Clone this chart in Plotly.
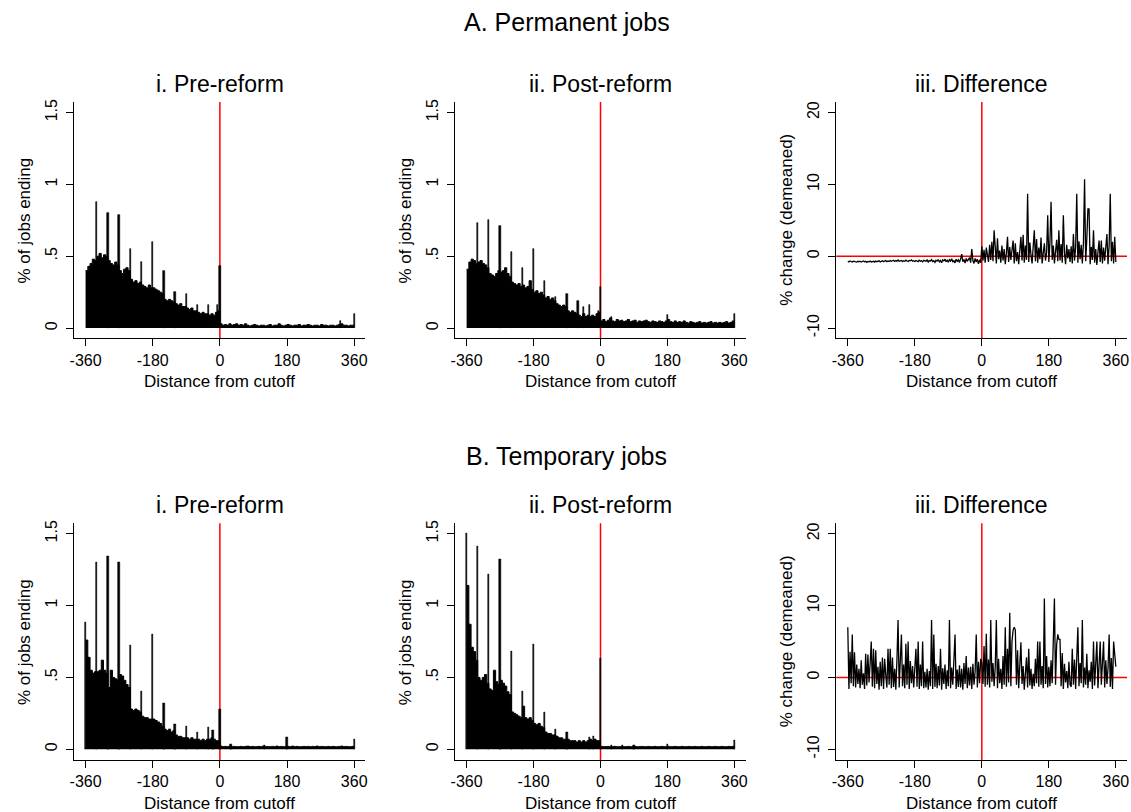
import plotly.graph_objects as go

W, H = 1131, 812

# ---------------- data ----------------
bin_days = list(range(-360, 360, 6))          # 6-day bins, -360 .. 354
line_days = list(range(-360, 361, 3))         # 3-day points for the difference panels
xticks = [-360, -180, 0, 180, 360]

# A. Permanent jobs, i. Pre-reform (% of jobs ending)
perm_pre_base = [
    0.40, 0.43, 0.45, 0.48, 0.47, 0.50, 0.52, 0.49, 0.51, 0.50,
    0.47, 0.45, 0.44, 0.46, 0.44, 0.40, 0.38, 0.41, 0.42, 0.40,
    0.34, 0.32, 0.33, 0.31, 0.32, 0.30, 0.29, 0.28, 0.30, 0.28,
    0.28, 0.27, 0.26, 0.25, 0.24, 0.20, 0.19, 0.20, 0.19, 0.18,
    0.17, 0.16, 0.17, 0.15, 0.15, 0.14, 0.13, 0.14, 0.12, 0.12,
    0.11, 0.10, 0.11, 0.10, 0.10, 0.09, 0.10, 0.09, 0.11, 0.12,
    0.030, 0.020, 0.025, 0.020, 0.030, 0.020, 0.025, 0.030, 0.020, 0.025,
    0.020, 0.030, 0.020, 0.015, 0.020, 0.025, 0.020, 0.015, 0.020, 0.020,
    0.015, 0.020, 0.025, 0.015, 0.020, 0.020, 0.030, 0.020, 0.015, 0.020,
    0.025, 0.020, 0.015, 0.020, 0.020, 0.025, 0.015, 0.020, 0.020, 0.025,
    0.020, 0.015, 0.020, 0.020, 0.015, 0.025, 0.020, 0.020, 0.015, 0.020,
    0.020, 0.015, 0.020, 0.025, 0.030, 0.020, 0.020, 0.015, 0.020, 0.020]
perm_pre_spike_days = [-330, -300, -270, -240, -210, -180, -150, -120, -90, -60, -30, -7, 0, 324, 360]
perm_pre_spike_vals = [0.88, 0.80, 0.785, 0.55, 0.46, 0.60, 0.40, 0.25, 0.236, 0.164, 0.164, 0.16, 0.43, 0.05, 0.097]

# A. Permanent jobs, ii. Post-reform
perm_post_base = [
    0.41, 0.46, 0.48, 0.47, 0.45, 0.46, 0.47, 0.45, 0.44, 0.42,
    0.38, 0.37, 0.36, 0.38, 0.40, 0.39, 0.40, 0.42, 0.38, 0.36,
    0.32, 0.31, 0.30, 0.31, 0.29, 0.30, 0.28, 0.29, 0.33, 0.27,
    0.25, 0.26, 0.24, 0.25, 0.23, 0.21, 0.22, 0.20, 0.21, 0.19,
    0.17, 0.16, 0.15, 0.16, 0.15, 0.12, 0.11, 0.12, 0.11, 0.10,
    0.09, 0.08, 0.10, 0.08, 0.09, 0.08, 0.09, 0.08, 0.10, 0.11,
    0.050, 0.060, 0.045, 0.055, 0.070, 0.050, 0.045, 0.060, 0.050, 0.055,
    0.045, 0.050, 0.060, 0.045, 0.050, 0.055, 0.040, 0.050, 0.045, 0.050,
    0.055, 0.045, 0.040, 0.050, 0.045, 0.040, 0.050, 0.045, 0.040, 0.050,
    0.060, 0.045, 0.040, 0.050, 0.040, 0.045, 0.040, 0.050, 0.040, 0.035,
    0.045, 0.040, 0.035, 0.040, 0.045, 0.035, 0.040, 0.035, 0.040, 0.045,
    0.035, 0.040, 0.035, 0.040, 0.035, 0.040, 0.045, 0.035, 0.040, 0.050]
perm_post_spike_days = [-330, -300, -270, -240, -210, -180, -150, -120, -90, -60, -45, -30, -6, 0, 30, 180, 360]
perm_post_spike_vals = [0.73, 0.75, 0.71, 0.53, 0.42, 0.55, 0.33, 0.22, 0.24, 0.19, 0.15, 0.16, 0.12, 0.29, 0.08, 0.09, 0.10]

# A. Permanent jobs, iii. Difference (% change, demeaned)
perm_diff = [
    -0.70, -0.78, -0.66, -0.74, -0.80, -0.68, -0.75, -0.72, -0.82, -0.70,
    -0.76, -0.69, -0.80, -0.73, -0.66, -0.78, -0.71, -0.84, -0.72, -0.77,
    -0.68, -0.79, -0.74, -0.70, -0.81, -0.67, -0.76, -0.72, -0.64, -0.78,
    -0.71, -0.62, -0.75, -0.68, -0.58, -0.74, -0.66, -0.72, -0.60, -0.70,
    -0.65, -0.55, -0.72, -0.60, -0.68, -0.52, -0.70, -0.63, -0.58, -0.74,
    -0.62, -0.70, -0.55, -0.66, -0.73, -0.58, -0.64, -0.50, -0.69, -0.61,
    -0.72, -0.58, -0.66, -0.75, -0.55, -0.68, -0.62, -0.78, -0.57, -0.65,
    -0.70, -0.52, -0.80, -0.60, -0.66, -0.48, -0.74, -0.62, -0.85, -0.55,
    -0.68, -0.45, -0.78, -0.58, -0.90, -0.50, -0.64, -0.40, -0.76, -0.55,
    -0.82, -0.48, -0.66, -0.35, -0.80, -0.58, -0.92, -0.42, -0.70, -0.50,
    -0.85, -0.40, 0.30, -0.75, -0.45, -0.95, -0.30, -0.70, -0.50, -0.20,
    -0.90, 1.00, -0.60, -1.00, -0.30, -0.80, -0.40, -1.05, -0.50, -0.90,
    1.4, -0.6, 0.9, -0.9, 1.2, 0.3, -0.8, 1.6, -0.5, 2.0,
    -0.7, 3.6, 0.5, -1.0, 2.5, -0.4, 0.8, -0.9, 1.5, -0.6,
    1.0, -1.1, 0.4, 2.7, -0.8, 1.3, -0.5, 0.9, 2.2, -1.0,
    1.8, -0.7, 0.6, -1.1, 1.1, 2.7, -0.6, 3.0, -0.9, 1.5,
    -0.5, 8.7, -0.8, 1.9, 0.2, -1.0, 1.4, 3.6, -0.7, 2.4,
    -0.9, 1.2, -0.4, 2.6, -1.0, 0.7, 1.8, -0.6, 0.5, 5.7,
    -0.8, 2.0, 7.6, -0.5, 1.5, -1.0, 0.8, 2.3, -0.7, 3.6,
    -0.6, 1.7, -0.9, 5.7, 0.4, -1.1, 1.6, -0.3, 1.0, -0.8,
    1.4, -1.0, 3.1, -0.6, 1.2, 8.7, -0.9, 2.1, -0.4, 1.6,
    -1.0, 1.9, 10.7, -0.7, 2.4, 6.6, 6.6, -1.1, 1.3, -0.5,
    3.6, -0.9, 1.0, -1.2, 0.6, 2.2, -0.8, 2.2, -1.0, 1.2,
    -0.6, 0.9, 3.1, -1.1, 1.5, 8.7, -0.7, 2.0, -1.0, 2.7,
    -0.8]

# B. Temporary jobs, i. Pre-reform
temp_pre_base = [
    0.76, 0.64, 0.55, 0.53, 0.54, 0.54, 0.55, 0.62, 0.55, 0.53,
    0.43, 0.55, 0.50, 0.49, 0.48, 0.52, 0.51, 0.48, 0.45, 0.43,
    0.28, 0.27, 0.28, 0.27, 0.26, 0.23, 0.22, 0.22, 0.21, 0.21,
    0.21, 0.20, 0.19, 0.18, 0.16, 0.14, 0.13, 0.14, 0.12, 0.13,
    0.10, 0.09, 0.09, 0.08, 0.08, 0.08, 0.07, 0.08, 0.07, 0.07,
    0.07, 0.06, 0.07, 0.06, 0.07, 0.07, 0.08, 0.07, 0.06, 0.06,
    0.022, 0.018, 0.020, 0.018, 0.022, 0.018, 0.020, 0.018, 0.018, 0.020,
    0.018, 0.020, 0.022, 0.018, 0.020, 0.018, 0.018, 0.020, 0.018, 0.022,
    0.020, 0.018, 0.018, 0.020, 0.018, 0.022, 0.018, 0.020, 0.018, 0.018,
    0.020, 0.018, 0.022, 0.018, 0.020, 0.018, 0.018, 0.020, 0.018, 0.020,
    0.018, 0.020, 0.018, 0.022, 0.018, 0.020, 0.018, 0.018, 0.020, 0.018,
    0.020, 0.018, 0.018, 0.020, 0.022, 0.018, 0.020, 0.018, 0.018, 0.020]
temp_pre_spike_days = [-360, -330, -300, -270, -240, -210, -180, -150, -120, -90, -60, -30, -18, 0, 30, 120, 180, 360]
temp_pre_spike_vals = [0.88, 1.30, 1.34, 1.30, 0.72, 0.40, 0.80, 0.32, 0.17, 0.16, 0.12, 0.15, 0.13, 0.28, 0.035, 0.03, 0.08, 0.07]

# B. Temporary jobs, ii. Post-reform
temp_post_base = [
    1.14, 0.87, 0.71, 0.68, 0.62, 0.50, 0.48, 0.50, 0.52, 0.46,
    0.42, 0.41, 0.55, 0.47, 0.45, 0.48, 0.46, 0.44, 0.40, 0.38,
    0.26, 0.25, 0.24, 0.23, 0.22, 0.30, 0.22, 0.21, 0.22, 0.20,
    0.18, 0.17, 0.18, 0.16, 0.15, 0.12, 0.11, 0.11, 0.10, 0.10,
    0.09, 0.08, 0.08, 0.07, 0.07, 0.07, 0.06, 0.06, 0.06, 0.05,
    0.06, 0.05, 0.06, 0.05, 0.06, 0.07, 0.06, 0.07, 0.06, 0.06,
    0.020, 0.018, 0.018, 0.020, 0.018, 0.018, 0.020, 0.018, 0.018, 0.020,
    0.018, 0.018, 0.020, 0.018, 0.018, 0.020, 0.018, 0.018, 0.020, 0.018,
    0.018, 0.020, 0.018, 0.018, 0.020, 0.018, 0.018, 0.020, 0.018, 0.018,
    0.020, 0.018, 0.018, 0.020, 0.018, 0.018, 0.020, 0.018, 0.018, 0.020,
    0.018, 0.018, 0.020, 0.018, 0.018, 0.020, 0.018, 0.018, 0.020, 0.018,
    0.018, 0.020, 0.018, 0.018, 0.020, 0.018, 0.018, 0.020, 0.018, 0.020]
temp_post_spike_days = [-360, -330, -300, -270, -240, -210, -180, -150, -120, -90, -30, -18, 0, 30, 60, 90, 180, 360]
temp_post_spike_vals = [1.50, 1.41, 1.22, 1.32, 0.68, 0.40, 0.73, 0.26, 0.14, 0.12, 0.085, 0.09, 0.63, 0.03, 0.03, 0.03, 0.035, 0.06]

# B. Temporary jobs, iii. Difference
temp_diff = [
    7.0, -1.6, 3.6, -0.8, 6.0, -1.2, 3.5, -1.4, 1.8, -0.9,
    1.2, -1.5, 2.4, -1.0, 0.6, -1.6, 3.3, -1.1, 3.2, -0.7,
    2.0, 5.0, -1.3, 4.0, -1.5, 3.8, -0.9, 1.5, -1.7, 2.2,
    -1.2, 2.8, -1.6, 2.6, 0.3, -1.4, 4.0, -1.0, 4.0, -1.5,
    2.8, -1.3, 1.2, -1.7, 2.5, 8.0, -1.4, 1.5, 6.0, -1.2,
    1.8, -1.5, 4.7, -1.0, 5.0, -1.6, 2.3, -0.8, 1.6, -1.4,
    0.9, 4.0, -1.3, 5.0, -1.6, 1.8, -1.2, 5.0, -1.5, 0.8,
    -1.4, 1.2, -1.7, 0.9, -1.2, 8.0, -1.6, 6.0, -1.3, 1.9,
    -1.5, 1.6, -1.1, 4.0, -1.7, 1.3, -0.9, 1.8, -1.6, 1.0,
    -1.2, 8.0, -1.5, 1.4, -1.0, 1.9, 6.0, -1.6, 1.1, -1.3,
    1.7, -1.4, 1.2, -1.7, 2.0, -0.9, 3.0, -1.5, 1.4, -1.1,
    1.5, -1.6, 1.9, -1.0, 0.8, 6.0, -1.4, 2.2, -0.8, 2.6,
    2.0, -0.9, 4.4, -1.3, 6.1, -1.0, 2.5, -1.4, 8.0, -0.6,
    2.0, -1.2, 1.4, 8.0, -1.5, 2.6, -0.8, 1.2, -1.6, 3.0,
    -1.0, 7.0, -1.3, 4.0, -0.7, 9.0, -1.2, 5.0, 6.6, 7.0,
    6.6, -1.0, 3.8, -1.5, 2.7, 4.9, -0.9, 1.6, -1.7, 1.0,
    2.8, -1.4, 4.0, -1.1, 1.2, -1.6, 0.5, -1.2, 2.6, -0.8,
    5.0, -1.3, 5.0, -1.0, 1.6, -1.5, 11.0, -0.9, 3.0, -1.4,
    1.5, -1.2, 2.4, -0.8, 4.0, 11.0, -1.0, 4.6, 6.0, 5.3,
    5.3, -1.2, 3.4, -1.6, 1.9, -0.7, 0.9, -1.5, 2.2, -1.0,
    -1.3, 4.0, -1.0, 2.5, -1.6, 3.1, 7.0, -1.2, 2.0, -0.8,
    8.0, -1.4, 1.4, -1.0, 3.3, -1.5, 1.0, -0.6, 2.2, -1.6,
    5.0, -1.1, 3.0, 5.0, -1.5, 1.7, 5.0, -1.0, 2.8, 5.0,
    -1.4, 2.4, -0.9, 1.3, 6.0, -1.3, 2.7, -1.6, 5.0, 3.6,
    1.5]

# ---------------- layout helpers ----------------
FONT = "Liberation Sans, Arial, Helvetica, sans-serif"
col_px = [(70.4, 363.3), (453.5, 745.5), (836.7, 1129.0)]
row_px = [(99.3, 336.7), (522.3, 760.0)]
XR = [-391, 390]
bar_ranges = [[-0.072, 1.574], [-0.076, 1.572]]
diff_ranges = [[-11.44, 21.48], [-11.51, 21.46]]


def fx(p):
    return p / W


def fy(p):
    return 1 - p / H


fig = go.Figure()

panels = [
    (0, 0, "bar", perm_pre_base, perm_pre_spike_days, perm_pre_spike_vals),
    (0, 1, "bar", perm_post_base, perm_post_spike_days, perm_post_spike_vals),
    (0, 2, "line", perm_diff, None, None),
    (1, 0, "bar", temp_pre_base, temp_pre_spike_days, temp_pre_spike_vals),
    (1, 1, "bar", temp_post_base, temp_post_spike_days, temp_post_spike_vals),
    (1, 2, "line", temp_diff, None, None),
]

shapes = []
layout_axes = {}
for i, (r, c, kind, vals, sd, sv) in enumerate(panels):
    n = i + 1
    xa = "x" if n == 1 else f"x{n}"
    ya = "y" if n == 1 else f"y{n}"
    if kind == "bar":
        # daily-bin mass drawn as a filled step outline (solid, no seams)
        fig.add_trace(go.Scatter(x=bin_days + [360], y=vals + [vals[-1]], mode="lines",
                                 line=dict(color="black", width=1, shape="hv"),
                                 fill="tozeroy", fillcolor="black",
                                 xaxis=xa, yaxis=ya, showlegend=False, hoverinfo="skip"))
        fig.add_trace(go.Bar(x=sd, y=sv, width=3.5,
                             marker=dict(color="black", line=dict(color="black", width=0.6)),
                             xaxis=xa, yaxis=ya, showlegend=False, hoverinfo="skip"))
    else:
        fig.add_trace(go.Scatter(x=line_days, y=vals, mode="lines",
                                 line=dict(color="black", width=1.3),
                                 xaxis=xa, yaxis=ya, showlegend=False, hoverinfo="skip"))
    x0, x1 = col_px[c]
    ytop, ybot = row_px[r]
    axcommon = dict(showgrid=False, zeroline=False, showline=True, linecolor="black",
                    linewidth=1, ticks="outside", ticklen=7, tickwidth=1, tickcolor="black",
                    tickfont=dict(family=FONT, size=16, color="black"))
    layout_axes["xaxis" if n == 1 else f"xaxis{n}"] = dict(
        domain=[fx(x0), fx(x1)], range=XR, anchor=ya, tickvals=xticks,
        ticktext=[str(t) for t in xticks], **axcommon)
    if kind == "bar":
        yd = dict(range=bar_ranges[r], tickvals=[0, 0.5, 1, 1.5], ticktext=["0", ".5", "1", "1.5"])
    else:
        yd = dict(range=diff_ranges[r], tickvals=[-10, 0, 10, 20], ticktext=["-10", "0", "10", "20"])
    layout_axes["yaxis" if n == 1 else f"yaxis{n}"] = dict(
        domain=[fy(ybot), fy(ytop)], anchor=xa, tickangle=-90, ticklabelstandoff=3,
        **yd, **axcommon)
    # red reference lines
    shapes.append(dict(type="line", xref=xa, yref=f"{ya} domain", x0=0, x1=0, y0=0, y1=1,
                       line=dict(color="rgb(255,0,0)", width=1.5), layer="below"))
    if kind == "line":
        shapes.append(dict(type="line", xref=f"{xa} domain", yref=ya, x0=0, x1=1, y0=0, y1=0,
                           line=dict(color="rgb(255,0,0)", width=1.5), layer="below"))

annotations = []


def add_text(text, xp, yp, size, angle=0):
    annotations.append(dict(text=text, x=fx(xp), y=fy(yp), xref="paper", yref="paper",
                            xanchor="center", yanchor="middle", showarrow=False,
                            textangle=angle, font=dict(family=FONT, size=size, color="black")))


add_text("A. Permanent jobs", 565.5, 19, 25)
add_text("B. Temporary jobs", 565.5, 455, 25)
subtitles = ["i. Pre-reform", "ii. Post-reform", "iii. Difference"]
ytitles = ["% of jobs ending", "% of jobs ending", "% change (demeaned)"]
row_sub_y = [81, 504]
row_xtitle_y = [380, 803]
for r in range(2):
    for c in range(3):
        x0, x1 = col_px[c]
        ytop, ybot = row_px[r]
        cx = (x0 + x1) / 2
        add_text(subtitles[c], cx, row_sub_y[r], 23)
        add_text("Distance from cutoff", cx, row_xtitle_y[r], 17)
        add_text(ytitles[c], x0 - 50, (ytop + ybot) / 2, 17, angle=-90)

fig.update_layout(
    width=W, height=H, margin=dict(l=0, r=0, t=0, b=0),
    paper_bgcolor="white", plot_bgcolor="white",
    barmode="overlay", bargap=0,
    shapes=shapes, annotations=annotations,
    font=dict(family=FONT, color="black"),
    **layout_axes,
)

fig.write_html("out.html")
